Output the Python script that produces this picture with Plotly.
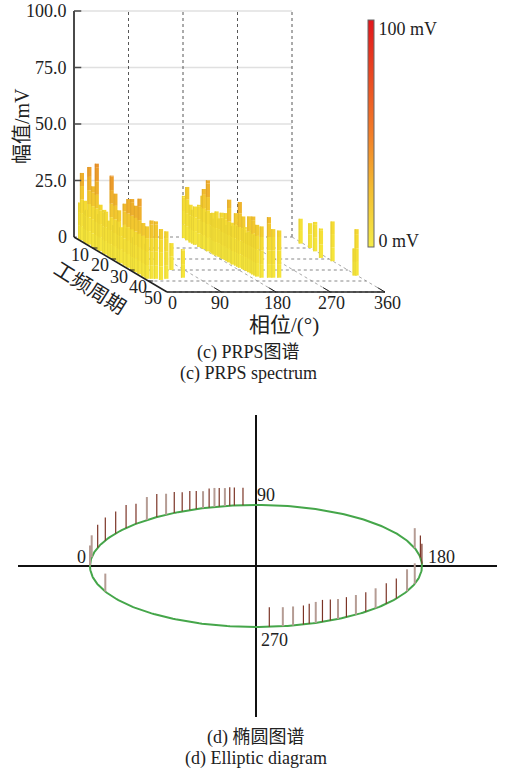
import numpy as np
import plotly.graph_objects as go

# ---------- PRPS data: power-frequency cycle, phase (deg), amplitude (mV) ----------
cluster1_cycle = [2,3,4,5,6,7,9,10,11,12,13,15,16,17,18,19,20,21,22,23,24,26,27,28,29,30,31,32,33,34,35,36,37,38,38,38,39,38,30]
cluster1_phase = [4,4,6,4,3,4,4,6,4,5,4,4,4,6,3,4,5,4,6,4,4,4,6,4,7,4,4,4,6,4,7,4,6,4,11.6,18.7,24,36,69]
cluster1_amp = [16.2,29.8,18,14,15,34.4,26.8,17,37.8,16,20.6,19.3,19,14,16,36.4,15,29.4,18,23,16,27.4,17,30.4,19,31.4,15,29.4,18,33.5,17,23.7,15,23.2,25.8,25.4,22.5,21,11.9]

lone_cycle = [37]
lone_phase = [66.4]
lone_amp = [12.6]

cluster2_cycle = [1,3,5,6,7,9,10,11,12,13,14,15,16,17,18,19,20,21,22,23,24,25,26,27,28,29,30,31,32,33,34,35,36,37,37,37,37]
cluster2_phase = [178.6,177.9,177.3,178,178.3,179.3,181.8,180.8,183,181.3,184.4,184,183,183.4,185,185.6,185,186,186,185.8,187,186,187.6,188,188,190.6,190,191,191.2,192,191.7,192,192,196.3,208.4,215.5,225.4]
cluster2_amp = [18.7,23.6,16.7,15,16.9,18.6,23.1,26.6,17,31.4,17.4,18,16,19.6,17,20,18,20.8,16,27.7,18,17,23.2,18,29.1,23.2,19,17,24.7,19,25.6,18,22.9,22.7,26.8,21.5,20.9]

cluster3_cycle = [6,10,13,19,22,35,35]
cluster3_phase = [356,359.5,358.5,349.6,359.6,356,359.3]
cluster3_amp = [11,11,13,13,17.6,12,20.5]

cycle_ticks = [10,20,30,40,50]
phase_ticks = [0,90,180,270,360]
amp_ticks = [0,25,50,75,100]
amp_labels = ["0","25.0","50.0","75.0","100.0"]

# ---------- Elliptic diagram data: phase (deg), stem amplitude ----------
dark_phase = [17.5,24.8,32.3,38.5,43.7,53.3,60.5,63.6,66.5,68.9,73.6,77.2,80.9,82.5,85.5,172,178,212.3,218.3,228.6,237,243.4,246.4,251.3,253.4,265.4]
dark_amp = [23,23,22,23,20,23,21,19,19,18,19,18.5,18.5,18,17.5,22,20,20,20.5,19.5,20,21,22,20,19,19.5]
light_phase = [0.5,8.2,48.9,57.2,71.4,75.5,79.2,163,197,204.5,223.9,233,240.4,248.9,257.1,260.7,335.2]
light_amp = [20,22,23,21,17,19,18,20,20.5,22,20,19.7,20,21,19,19,18]
ellipse_labels = ["0","90","180","270"]

SERIF = "Liberation Serif, Noto Sans CJK SC"
STOPS = [(0,(247,234,64)),(0.2,(245,218,50)),(0.26,(242,190,46)),(0.38,(234,148,42)),(0.6,(240,110,45)),(1,(216,24,30))]

def rgb(v, k=1.0):
    t = min(max(v/100,0),1)
    for (a,ca),(b,cb) in zip(STOPS,STOPS[1:]):
        if t <= b:
            f = (t-a)/(b-a)
            return "rgb(%d,%d,%d)" % tuple(k*(ca[i]+(cb[i]-ca[i])*f) for i in range(3))
    return "rgb(216,24,30)"

# oblique projection of the 3-D box into the page axis
def px(phase, cycle, amp=0):
    return 74 + phase*218/360 + cycle*93/50
def py(phase, cycle, amp=0):
    return 237 + cycle*55/50 - amp*2.26

fig = go.Figure()
def seg(xs, ys, color, width, dash="solid", axes=("x","y")):
    fig.add_trace(go.Scatter(x=xs, y=ys, mode="lines", xaxis=axes[0], yaxis=axes[1],
        line=dict(color=color, width=width, dash=dash), hoverinfo="skip", showlegend=False))

# box: back wall grid, floor grid, dotted verticals
for a in amp_ticks[1:]:
    seg([px(0,0),px(360,0)],[py(0,0,a),py(360,0,a)],"#e0e0e0",1.5)
for p in phase_ticks[1:]:
    seg([px(p,0),px(p,0)],[py(p,0),py(p,0,100)],"#444444",0.9,"dot")
for p in phase_ticks[1:]:
    seg([px(p,0),px(p,50)],[py(p,0),py(p,50)],"#aaaaaa",1,"dot")
seg([px(0,0),px(360,0)],[py(0,0),py(360,0)],"#888888",1,"dot")
for c in cycle_ticks:
    seg([px(0,c),px(360,c)],[py(0,c),py(360,c)],"#888888",1,"dot")

# bars, painted from the back to the front, shaded in amplitude bands
cycles = cluster1_cycle+lone_cycle+cluster2_cycle+cluster3_cycle
phases = cluster1_phase+lone_phase+cluster2_phase+cluster3_phase
amps = cluster1_amp+lone_amp+cluster2_amp+cluster3_amp
for i in np.argsort(cycles, kind="stable"):
    c,p,a = cycles[i],phases[i],amps[i]
    levels = list(np.arange(0,a,6))+[a]
    for lo,hi in zip(levels,levels[1:]):
        seg([px(p,c),px(p,c)],[py(p,c,lo),py(p,c,hi)],rgb(hi),4)
        seg([px(p-2.6,c),px(p-2.6,c)],[py(p,c,lo),py(p,c,hi)],rgb(hi,0.94),1.2)

# box axes and ticks
seg([px(0,0),px(0,0)],[py(0,0),py(0,0,100)],"#4a4a4a",2)
for a in amp_ticks[1:]:
    seg([px(0,0),px(12,0)],[py(0,0,a),py(12,0,a)],"#4a4a4a",1.5)
seg([px(0,0),px(0,50)],[py(0,0),py(0,50)],"#222222",1.6)
seg([px(0,50),px(360,50)],[py(0,50),py(360,50)],"#222222",1.6)
for c in cycle_ticks[:-1]:
    seg([px(0,c),px(8,c)],[py(0,c),py(8,c)],"#222222",1)
for p in phase_ticks[1:]:
    seg([px(p,50),px(p,46)],[py(p,50),py(p,46)],"#222222",1)

# colour bar
fig.add_trace(go.Scatter(x=[None,None],y=[None,None],mode="markers",showlegend=False,
    marker=dict(color=[0,100],cmin=0,cmax=100,
        colorscale=[[0,"rgb(245,236,72)"],[0.25,"rgb(243,190,50)"],[0.5,"rgb(242,125,40)"],[1,"rgb(225,22,28)"]],
        colorbar=dict(thickness=6,thicknessmode="pixels",len=227/769,lenmode="fraction",
            x=367.5/508,xanchor="left",y=(769-133.5)/769,yanchor="middle",xpad=0,ypad=0,
            outlinecolor="#666666",outlinewidth=1,
            tickmode="array",tickvals=[3,96],ticktext=["0 mV","100 mV"],ticks="",
            ticklabelposition="outside",
            tickfont=dict(family=SERIF,size=18,color="#222222")))))

# elliptic diagram on its own axes
th = np.radians(np.arange(0,361,1))
seg((-np.cos(th)).tolist(),np.sin(th).tolist(),"#45a64a",2,axes=("x2","y2"))
def stems(ph,am,color,width):
    xs,ys=[],[]
    for p,a in zip(ph,am):
        r=np.radians(p)
        xs+=[-np.cos(r),-np.cos(r),None]
        ys+=[np.sin(r),np.sin(r)+a/61,None]
    seg(xs,ys,color,width,axes=("x2","y2"))
stems(light_phase,light_amp,"#b59c94",2)
stems(dark_phase,dark_amp,"#7b3426",1.2)

ann=[]
def txt(x,y,s,size=18,angle=0,xref="x",yref="y",**k):
    ann.append(dict(x=x,y=y,xref=xref,yref=yref,text=s,showarrow=False,textangle=angle,
        font=dict(family=SERIF,size=size,color="#222222"),**k))
for a,l in zip(amp_ticks,amp_labels):
    txt(69,py(0,0,a),l,xanchor="right")
for c,x,y in zip(cycle_ticks,[80,100,119,138,153],[255,265,277,287,298]):
    txt(x,y,str(c))
for p,x in zip(phase_ticks,[172,220,277,331,387]):
    txt(x,303,str(p))
txt(22,126,"幅值/mV",20,-90)
txt(90,288,"工频周期",20,32)
txt(284,325,"相位/(°)",21)
txt(248,352,"(c) PRPS图谱",18)
txt(248,373,"(c) PRPS spectrum",18)
txt(256,737,"(d) 椭圆图谱",18)
txt(256,758,"(d) Elliptic diagram",18)
for l,(x,y) in zip(ellipse_labels,[(81,557),(266,495),(441,557),(274,640)]):
    txt(x,y,l)

fig.update_layout(width=508,height=769,autosize=False,margin=dict(l=0,r=0,t=0,b=0),
    paper_bgcolor="white",plot_bgcolor="rgba(0,0,0,0)",annotations=ann,showlegend=False,
    xaxis=dict(range=[0,508],domain=[0,1],visible=False,fixedrange=True),
    yaxis=dict(range=[769,0],domain=[0,1],visible=False,fixedrange=True),
    xaxis2=dict(range=[(18-256)/166,(497-256)/166],domain=[18/508,497/508],anchor="y2",
        showgrid=False,showticklabels=False,ticks="",zeroline=True,zerolinecolor="#111111",zerolinewidth=2,showline=False),
    yaxis2=dict(range=[-151/61,151/61],domain=[(769-717)/769,(769-415)/769],anchor="x2",
        showgrid=False,showticklabels=False,ticks="",zeroline=True,zerolinecolor="#111111",zerolinewidth=2,showline=False))
fig.write_html("out.html", config=dict(displayModeBar=False),
    post_script="document.body.style.margin='0';document.documentElement.style.overflow='hidden';")
